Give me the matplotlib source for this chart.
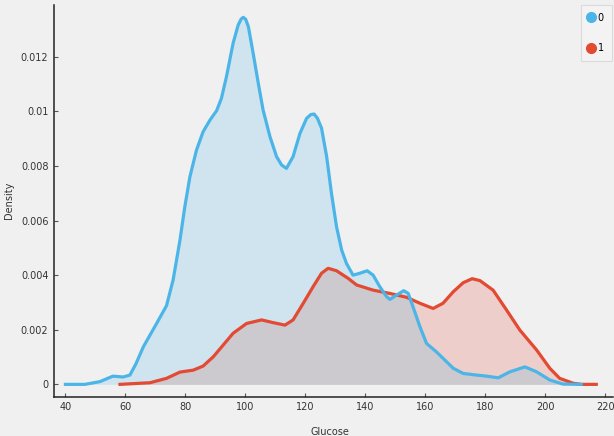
import matplotlib
matplotlib.use("Agg")
import matplotlib.pyplot as plt
from matplotlib.lines import Line2D
from matplotlib.ticker import FuncFormatter

# density estimate of Glucose, outcome 0
glucose_0 = [40, 46.5, 51.5, 55.8, 59.2, 61.5, 63.5, 66, 70.4, 73.7, 75.9, 78.2, 79.8,
             81.5, 83.7, 85.9, 88.2, 90.4, 92.0, 93.7, 95.9, 97.6, 98.6, 99.3, 100.1,
             101, 102.6, 104.3, 105.9, 108.2, 110.4, 112.1, 113.7, 115.9, 118.2,
             120.4, 121.8, 122.9, 124.0, 125.4, 127.1, 128.7, 130.4, 132.1, 133.7,
             135.9, 138.2, 140.6, 142.6, 144.8, 147.1, 148.2, 150.4, 152.8, 154.3,
             155.9, 158.2, 160.4, 163.7, 166.5, 169.3, 172.6, 177.1, 180.5, 184.3,
             188.2, 193.2, 197.1, 201.5, 205.9, 212]
density_0 = [0, 0, 0.0001, 0.0003, 0.00027, 0.00034, 0.00075, 0.00138, 0.00223, 0.00288,
             0.00382, 0.00529, 0.0065, 0.0076, 0.00858, 0.00925, 0.00968, 0.01002,
             0.01047, 0.01127, 0.01249, 0.01316, 0.01338, 0.01344, 0.01337, 0.0131,
             0.01212, 0.01103, 0.01005, 0.00907, 0.00834, 0.00803, 0.00791, 0.00834,
             0.00919, 0.00974, 0.00988, 0.0099, 0.00975, 0.00938, 0.00834, 0.007,
             0.00577, 0.00492, 0.00443, 0.004, 0.00407, 0.00416, 0.004, 0.00358,
             0.00321, 0.00311, 0.00327, 0.00343, 0.00333, 0.00284, 0.00211, 0.0015,
             0.00119, 0.00089, 0.00059, 0.0004, 0.00034, 0.0003, 0.00024, 0.00046,
             0.00064, 0.00046, 0.00016, 0.00001, 0]

# density estimate of Glucose, outcome 1
glucose_1 = [58.2, 68.2, 73.7, 78.2, 82.6, 85.9, 89.3, 92.6, 95.9, 100.4, 105.4, 109.3,
             113.2, 115.9, 119.3, 122.6, 125.4, 127.6, 130.4, 134.3, 137.1, 142.6,
             148.2, 153.7, 158.2, 162.6, 165.9, 169.3, 172.6, 175.6, 178.2, 182.6,
             187.1, 191.5, 197.1, 201.5, 204.8, 209.3, 212, 217]
density_1 = [0, 0.00006, 0.00022, 0.00045, 0.00052, 0.00067, 0.00101, 0.00144, 0.00187,
             0.00223, 0.00236, 0.00226, 0.00217, 0.00236, 0.00297, 0.00358, 0.00407,
             0.00425, 0.00416, 0.00388, 0.00364, 0.00345, 0.00333, 0.00319, 0.00297,
             0.00278, 0.00297, 0.00339, 0.00372, 0.00387, 0.0038, 0.00345, 0.00272,
             0.00199, 0.00126, 0.00059, 0.00022, 0.00004, 0, 0]

labels = ["0", "1"]
colors = ["#4cb5e8", "#e24a33"]
bg = "#f0f0f0"

fig = plt.figure(figsize=(6.14, 4.36), dpi=100, facecolor=bg)
ax = fig.add_axes([0.088, 0.090, 0.910, 0.899], facecolor=bg)

# red fill first so the blue wash tints the overlap grey
ax.fill_between(glucose_1, density_1, color=colors[1], alpha=0.2, linewidth=0)
ax.fill_between(glucose_0, density_0, color=colors[0], alpha=0.2, linewidth=0)
ax.plot(glucose_1, density_1, color=colors[1], linewidth=2.3, solid_joinstyle="round")
ax.plot(glucose_0, density_0, color=colors[0], linewidth=2.3, solid_joinstyle="round")

ax.set_xlim(36.2, 222.5)
ax.set_ylim(-0.000454, 0.0139)
ax.set_xticks(range(40, 221, 20))
ax.set_yticks([0, 0.002, 0.004, 0.006, 0.008, 0.01, 0.012])
ax.yaxis.set_major_formatter(FuncFormatter(lambda v, p: "%g" % v))

for side in ["top", "right"]:
    ax.spines[side].set_visible(False)
for side in ["left", "bottom"]:
    ax.spines[side].set_color("#222222")
    ax.spines[side].set_linewidth(1.1)
ax.tick_params(direction="in", length=3, width=0.8, color="#555555",
               labelsize=7, labelcolor="#333333", pad=4)

ax.set_xlabel("Glucose", fontsize=7, color="#333333")
ax.set_ylabel("Density", fontsize=7, color="#333333")
ax.xaxis.set_label_coords(0.493, -0.077)
ax.yaxis.set_label_coords(-0.072, 0.5)

handles = [Line2D([], [], linestyle="none", marker="o", markersize=7,
                  markerfacecolor=c, markeredgecolor=c) for c in colors]
leg = ax.legend(handles, labels, loc="upper right", bbox_to_anchor=(0.998, 1.0),
                fontsize=7, frameon=True, fancybox=False, handlelength=0.6,
                handletextpad=0.35, labelspacing=2.1, borderpad=0.8,
                borderaxespad=0.0)
leg.get_frame().set_facecolor("#f4f4f4")
leg.get_frame().set_edgecolor("#d6d6d6")
leg.get_frame().set_linewidth(0.8)

fig.savefig("out.png", dpi=100, facecolor=bg)
